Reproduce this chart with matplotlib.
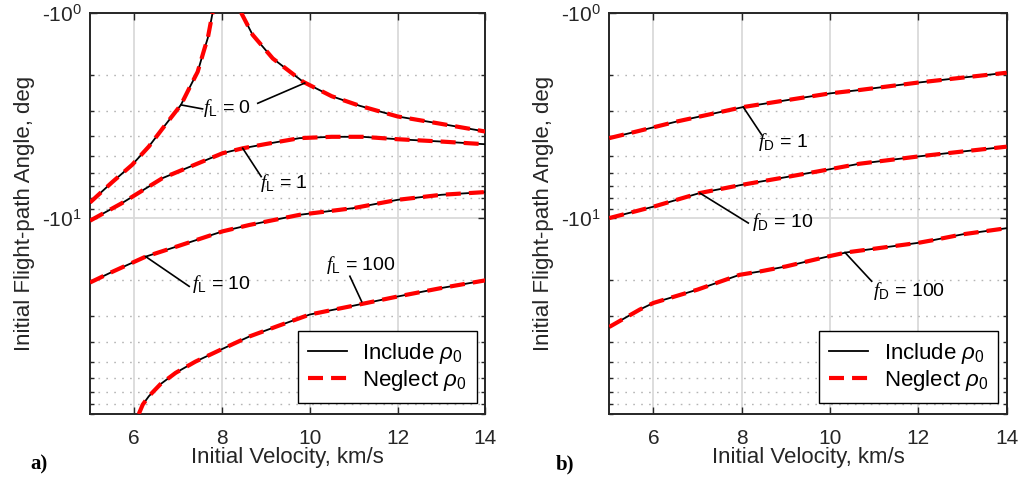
import numpy as np
import matplotlib
matplotlib.use("Agg")
import matplotlib.pyplot as plt
from matplotlib.ticker import FixedLocator, FuncFormatter, LogLocator, NullFormatter

plt.rcParams['font.family'] = ['Liberation Sans', 'DejaVu Sans']
plt.rcParams['mathtext.fontset'] = 'custom'
plt.rcParams['mathtext.rm'] = 'Liberation Sans'
plt.rcParams['mathtext.it'] = 'Liberation Sans:italic'
plt.rcParams['mathtext.cal'] = 'Liberation Serif:italic'
plt.rcParams['lines.scale_dashes'] = False

# ---------------- data (|flight-path angle|, deg) ----------------
# panel a: lift parameter f_L
v_L0_left = [5.0, 5.5, 5.96, 6.34, 6.7, 7.07, 7.3, 7.45, 7.6, 7.68, 7.79]
g_L0_left = [8.4, 6.7, 5.5, 4.48, 3.55, 2.81, 2.24, 1.94, 1.51, 1.33, 1.0]
v_L0_right = [8.44, 8.7, 9.16, 9.85, 10.5, 11.14, 12.0, 12.9, 14.0]
g_L0_right = [1.0, 1.28, 1.67, 2.17, 2.55, 2.84, 3.2, 3.45, 3.79]
v_L1 = [5.0, 5.73, 6.65, 7.4, 8.02, 8.48, 9.0, 9.77, 10.5, 11.2, 12.0, 13.0, 14.0]
g_L1 = [10.3, 8.45, 6.39, 5.48, 4.83, 4.57, 4.36, 4.08, 4.02, 4.02, 4.13, 4.24, 4.37]
v_L10 = [5.0, 5.5, 6.27, 7.0, 8.02, 8.63, 9.77, 11.0, 12.0, 13.0, 14.0]
g_L10 = [20.6, 18.3, 15.4, 13.7, 11.6, 10.8, 9.64, 8.94, 8.15, 7.7, 7.47]
v_L100 = [6.11, 6.2, 6.34, 6.6, 6.95, 7.4, 7.98, 8.63, 9.3, 10.0, 11.0, 12.0, 13.0, 14.0]
g_L100 = [90.0, 81.0, 73.7, 64.5, 56.7, 50.0, 43.7, 37.7, 33.4, 29.5, 26.7, 24.1, 21.9, 20.1]

# panel b: drag parameter f_D
v_D1 = [5.0, 5.7, 6.52, 8.03, 9.0, 10.0, 10.66, 11.98, 13.0, 14.0]
g_D1 = [4.08, 3.75, 3.39, 2.88, 2.67, 2.47, 2.38, 2.19, 2.07, 1.96]
v_D10 = [5.0, 6.0, 7.04, 8.0, 9.0, 10.0, 10.66, 12.0, 13.0, 14.0]
g_D10 = [10.0, 8.8, 7.56, 6.89, 6.32, 5.78, 5.44, 5.01, 4.74, 4.49]
v_D100 = [5.0, 5.69, 6.0, 7.0, 7.95, 8.41, 9.0, 10.0, 10.37, 12.0, 12.34, 13.0, 14.0]
g_D100 = [33.9, 27.9, 25.9, 22.3, 18.9, 18.2, 17.2, 15.3, 14.7, 13.2, 12.8, 12.0, 11.2]

x_ticks = [6, 8, 10, 12, 14]
y_major = [1, 10]

panel_a = [(v_L0_left, g_L0_left), (v_L0_right, g_L0_right), (v_L1, g_L1),
           (v_L10, g_L10), (v_L100, g_L100)]
panel_b = [(v_D1, g_D1), (v_D10, g_D10), (v_D100, g_D100)]

fig = plt.figure(figsize=(10.18, 4.88), dpi=100)
ax_a = fig.add_axes([0.0884, 0.1516, 0.3885, 0.8223])
ax_b = fig.add_axes([0.5985, 0.1516, 0.3904, 0.8223])

red_dash = dict(color='#ff0000', lw=3.0, linestyle=(0, (10.8, 5.8)), solid_capstyle='butt', dash_capstyle='butt')
blk = dict(color='black', lw=1.3)


def style(ax):
    ax.set_yscale('log')
    ax.set_xlim(5, 14)
    ax.set_ylim(90, 1)
    ax.xaxis.set_major_locator(FixedLocator(x_ticks))
    ax.yaxis.set_major_locator(FixedLocator(y_major))
    ax.yaxis.set_minor_locator(LogLocator(base=10, subs=np.arange(2, 10), numticks=20))
    ax.yaxis.set_minor_formatter(NullFormatter())
    ax.yaxis.set_major_formatter(FuncFormatter(lambda v, p: '-10$^{%d}$' % round(np.log10(v))))
    ax.grid(which='major', color='#dadada', lw=1.3, ls='-')
    ax.grid(which='minor', axis='y', color='#b5b5b5', lw=1.0, ls=(0, (1.2, 4.5)))
    ax.set_axisbelow(True)
    ax.tick_params(which='both', direction='in', top=True, right=True, labelsize=15,
                   colors='#262626', labelcolor='#262626', width=1.0)
    ax.tick_params(axis='x', which='major', length=5, pad=11)
    ax.tick_params(axis='y', which='major', length=5, pad=6)
    ax.tick_params(which='minor', length=3)
    for s in ax.spines.values():
        s.set_color('#262626')
        s.set_linewidth(1.4)
    ax.set_xlabel('Initial Velocity, km/s', fontsize=16, color='#262626', labelpad=-1)
    ax.set_ylabel('Initial Flight-path Angle, deg', fontsize=16, color='#262626', labelpad=5)


for ax, curves in ((ax_a, panel_a), (ax_b, panel_b)):
    style(ax)
    for i, (v, g) in enumerate(curves):
        ax.plot(v, g, label='Include $\\rho_0$' if i == 0 else None, zorder=3, **blk)
    for i, (v, g) in enumerate(curves):
        ax.plot(v, g, label='Neglect $\\rho_0$' if i == 0 else None, zorder=4, **red_dash)

# legends
for ax in (ax_a, ax_b):
    lg = ax.legend(loc='lower right', bbox_to_anchor=(0.978, 0.027), fontsize=16,
                   frameon=True, fancybox=False, edgecolor='black', handlelength=1.75,
                   borderpad=0.45, labelspacing=0.1, borderaxespad=0, handletextpad=0.7)
    lg.get_frame().set_linewidth(1.0)
    lg.get_frame().set_alpha(1)

# annotations: leader lines and labels
lead = dict(color='black', lw=1.2, zorder=5)
fs_ann = 14
ax_a.plot([7.067, 7.561], [2.81, 2.94], **lead)
ax_a.plot([8.818, 9.886], [2.76, 2.20], **lead)
ax_a.text(8.126, 2.91, r'$\mathcal{f}_{\mathrm{L}}$ = 0', ha='center', va='center', fontsize=fs_ann)
ax_a.plot([8.475, 8.896], [4.57, 6.28], **lead)
ax_a.text(8.86, 6.73, r'$\mathcal{f}_{\mathrm{L}}$ = 1', ha='left', va='center', fontsize=fs_ann)
ax_a.plot([6.267, 7.257], [15.4, 21.5], **lead)
ax_a.text(7.33, 20.9, r'$\mathcal{f}_{\mathrm{L}}$ = 10', ha='left', va='center', fontsize=fs_ann)
ax_a.plot([10.914, 11.182], [19.2, 25.5], **lead)
ax_a.text(11.166, 16.9, r'$\mathcal{f}_{\mathrm{L}}$ = 100', ha='center', va='center', fontsize=fs_ann)

ax_b.plot([8.034, 8.451], [2.88, 3.93], **lead)
ax_b.text(8.37, 4.24, r'$\mathcal{f}_{\mathrm{D}}$ = 1', ha='left', va='center', fontsize=fs_ann)
ax_b.plot([7.054, 8.148], [7.56, 10.57], **lead)
ax_b.text(8.23, 10.4, r'$\mathcal{f}_{\mathrm{D}}$ = 10', ha='left', va='center', fontsize=fs_ann)
ax_b.plot([10.337, 10.942], [14.7, 20.3], **lead)
ax_b.text(10.97, 22.7, r'$\mathcal{f}_{\mathrm{D}}$ = 100', ha='left', va='center', fontsize=fs_ann)

fig.text(30 / 1018, 1 - 464 / 488, 'a)', family='Liberation Serif', weight='bold', fontsize=15, va='center')
fig.text(556 / 1018, 1 - 464 / 488, 'b)', family='Liberation Serif', weight='bold', fontsize=15, va='center')

fig.savefig('out.png', dpi=100)
